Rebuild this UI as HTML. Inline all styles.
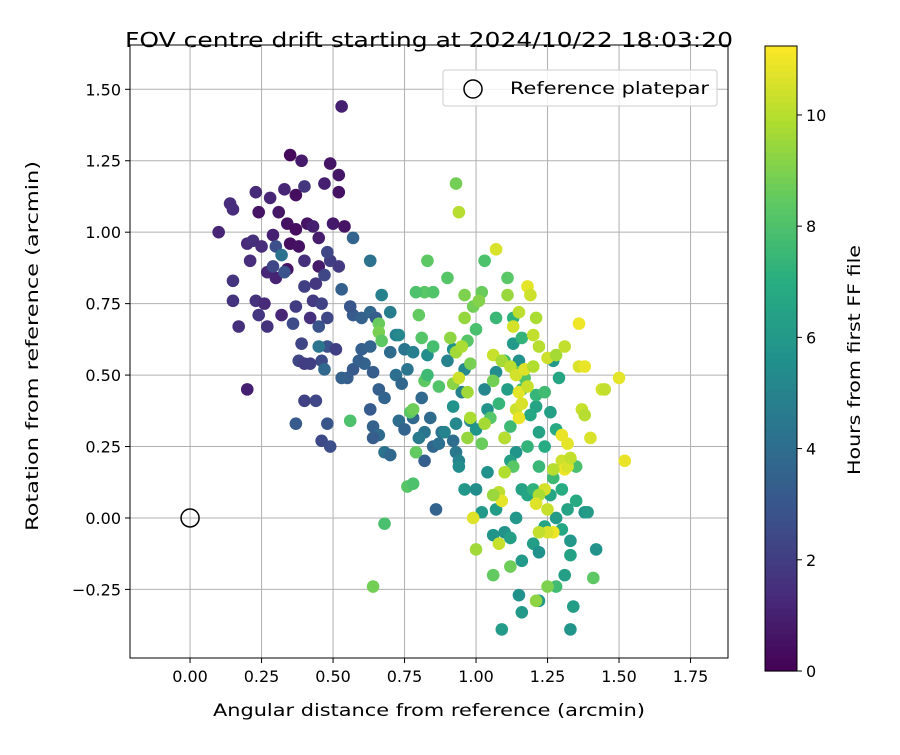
<!DOCTYPE html>
<html><head><meta charset="utf-8"><style>
body{margin:0;background:#fff;}
svg text{font-family:"DejaVu Sans","Liberation Sans",sans-serif;}
</style></head><body>
<svg id="chart" width="900" height="750" xmlns="http://www.w3.org/2000/svg">
<text x="429" y="47" font-size="20" text-anchor="middle" textLength="608" lengthAdjust="spacingAndGlyphs" fill="#000">FOV centre drift starting at 2024/10/22 18:03:20</text>
<g id="grid"></g>
<g id="points"></g>
<rect x="130" y="45" width="598" height="613" fill="none" stroke="#000" stroke-width="1"/>
<g id="ticks"></g>
<text x="429" y="716" font-size="17" text-anchor="middle" textLength="432" lengthAdjust="spacingAndGlyphs">Angular distance from reference (arcmin)</text>
<text transform="translate(38,346) rotate(-90)" font-size="17" text-anchor="middle" textLength="370" lengthAdjust="spacingAndGlyphs">Rotation from reference (arcmin)</text>
<g>
<rect x="443" y="70" width="274" height="36" rx="3" fill="#fff" fill-opacity="0.8" stroke="#ccc"/>
<circle cx="473" cy="89" r="9" fill="none" stroke="#000" stroke-width="1.5"/>
<text x="510" y="94" font-size="17" textLength="199" lengthAdjust="spacingAndGlyphs">Reference platepar</text>
</g>
<g id="cbar"></g>
<text transform="translate(860,360) rotate(-90)" font-size="17" text-anchor="middle" textLength="230" lengthAdjust="spacingAndGlyphs">Hours from first FF file</text>
</svg>
<script>
const xTicks=[0,0.25,0.5,0.75,1.0,1.25,1.5,1.75];
const yTicks=[-0.25,0,0.25,0.5,0.75,1.0,1.25,1.5];
const cbTicks=[0,2,4,6,8,10];
const referencePoint=[0,0];
const purple=[[0.53,1.44,1.0],[0.35,1.27,0.3],[0.49,1.24,0.6],[0.39,1.25,0.8],[0.33,1.15,1.2],[0.52,1.20,0.7],[0.47,1.17,1.0],[0.23,1.14,1.3],[0.14,1.10,1.4],[0.15,1.08,1.4],[0.28,1.12,1.2],[0.37,1.13,0.4],[0.40,1.16,1.8],[0.52,1.14,0.5],[0.24,1.07,0.6],[0.31,1.07,0.7],[0.10,1.00,1.2],[0.20,0.96,1.3],[0.22,0.97,1.5],[0.25,0.95,1.4],[0.29,0.99,1.0],[0.34,1.03,0.5],[0.37,1.01,0.4],[0.41,1.03,0.6],[0.43,1.02,1.0],[0.50,1.03,0.8],[0.54,1.02,0.6],[0.35,0.96,0.4],[0.38,0.95,0.5],[0.45,0.98,0.9],[0.27,0.86,1.2],[0.30,0.84,1.1],[0.34,0.87,0.6],[0.40,0.90,1.5],[0.45,0.88,0.8],[0.15,0.83,1.7],[0.21,0.90,1.4],[0.20,0.45,1.0],[0.23,0.76,1.6],[0.26,0.75,1.3],[0.15,0.76,1.6],[0.17,0.67,1.5],[0.24,0.71,1.8],[0.27,0.67,1.6],[0.32,0.71,1.2]];
const indigo=[[0.37,0.74,2.0],[0.42,0.70,1.5],[0.39,0.61,2.3],[0.36,0.68,2.6],[0.43,0.76,1.9],[0.46,0.75,2.2],[0.40,0.81,2.1],[0.44,0.82,1.8],[0.47,0.85,2.4],[0.49,0.90,2.0],[0.52,0.88,1.9],[0.48,0.93,2.4],[0.40,0.41,2.2],[0.44,0.41,2.4],[0.37,0.33,3.2],[0.46,0.27,2.5],[0.49,0.25,2.7],[0.38,0.55,2.3],[0.40,0.54,2.0],[0.46,0.55,2.6],[0.48,0.60,2.8],[0.51,0.59,2.1],[0.45,0.67,2.9],[0.48,0.70,2.4],[0.29,0.88,2.4],[0.33,0.86,2.9],[0.30,0.95,2.7],[0.32,0.92,4.2],[0.53,0.80,3.4],[0.42,0.54,2.1],[0.48,0.33,3.0],[0.47,0.52,3.8],[0.45,0.60,4.4]];
const blue=[[0.57,0.71,3.2],[0.60,0.70,3.5],[0.63,0.72,3.7],[0.65,0.70,3.3],[0.57,0.98,3.6],[0.63,0.90,4.2],[0.56,0.74,3.0],[0.60,0.59,3.4],[0.63,0.60,3.6],[0.64,0.51,3.3],[0.70,0.58,3.9],[0.72,0.50,4.1],[0.66,0.45,3.4],[0.68,0.42,3.6],[0.63,0.38,3.2],[0.64,0.32,3.5],[0.66,0.29,3.9],[0.64,0.28,3.3],[0.68,0.23,4.2],[0.70,0.22,3.8],[0.73,0.34,4.0],[0.75,0.31,3.6],[0.78,0.35,3.8],[0.82,0.30,4.3],[0.84,0.35,3.9],[0.82,0.20,3.4],[0.85,0.25,3.7],[0.87,0.26,4.1],[0.93,0.23,4.5],[0.86,0.03,3.6],[0.57,0.52,3.1],[0.55,0.49,3.3],[0.53,0.49,3.5],[0.74,0.47,3.7],[0.76,0.52,4.4],[0.81,0.42,3.8],[0.80,0.28,4.6],[0.88,0.30,4.2],[0.92,0.27,4.0],[0.75,0.59,4.3],[0.72,0.64,4.8],[0.61,0.54,3.6],[0.59,0.55,3.4]];
const teal=[[0.67,0.78,4.9],[0.70,0.72,4.7],[0.73,0.64,5.2],[0.78,0.58,4.8],[0.83,0.57,5.5],[0.90,0.55,5.0],[0.92,0.59,5.6],[0.96,0.52,5.3],[0.95,0.44,4.9],[0.92,0.39,5.7],[0.98,0.34,5.2],[1.00,0.31,5.8],[0.94,0.20,5.0],[0.94,0.18,5.4],[0.96,0.10,5.9],[1.00,0.10,5.5],[1.02,0.02,6.0],[1.04,0.16,5.6],[1.06,-0.06,5.8],[1.07,0.03,6.2],[1.10,-0.05,5.7],[1.12,-0.07,6.3],[1.14,0.00,5.9],[1.16,0.10,6.4],[1.18,0.08,6.6],[1.16,-0.15,6.0],[1.20,-0.09,6.2],[1.22,-0.12,5.6],[1.24,-0.03,6.5],[1.28,0.00,6.1],[1.30,-0.04,6.7],[1.31,-0.20,6.3],[1.33,-0.08,5.9],[1.33,-0.13,6.4],[1.35,0.06,6.8],[1.38,0.02,5.8],[1.39,0.02,6.1],[1.42,-0.11,5.7],[1.34,-0.31,6.2],[1.33,-0.39,5.8],[1.15,-0.27,5.6],[1.16,-0.33,6.0],[1.22,-0.29,5.9],[1.09,-0.39,6.1],[1.21,0.39,6.5],[1.26,0.37,6.3],[1.27,0.55,5.9],[1.29,0.49,6.6],[1.28,0.31,6.8],[1.22,0.30,6.4],[1.10,0.28,5.5],[1.14,0.23,5.8],[1.03,0.45,5.1],[1.07,0.51,5.4],[1.04,0.38,5.7],[0.93,0.33,5.2],[0.89,0.30,5.0],[1.13,0.61,6.0],[1.15,0.55,5.6],[1.11,0.45,6.2],[1.19,0.36,6.7],[1.24,0.25,6.9],[1.26,0.08,6.6],[1.30,0.10,6.9],[1.32,0.03,6.5],[1.12,0.20,6.3]];
const green=[[0.82,0.79,8.3],[0.85,0.79,8.1],[0.83,0.90,8.4],[0.90,0.84,8.2],[0.93,1.17,8.8],[0.79,0.79,8.0],[0.85,0.60,7.8],[0.80,0.71,8.5],[0.81,0.63,8.2],[0.66,0.68,8.6],[0.66,0.65,8.9],[0.67,0.62,8.4],[0.56,0.34,8.0],[0.77,0.37,8.3],[0.78,0.38,8.7],[0.79,0.23,8.5],[0.76,0.11,8.2],[0.78,0.12,8.0],[0.68,-0.02,7.9],[0.64,-0.24,8.8],[0.82,0.48,8.4],[0.87,0.46,8.1],[0.83,0.50,7.6],[0.97,0.62,8.2],[1.00,0.66,7.9],[1.02,0.79,8.6],[1.03,0.90,8.0],[1.07,0.70,7.5],[1.11,0.84,8.3],[1.13,0.70,7.2],[1.10,0.55,7.8],[1.08,0.40,7.4],[1.12,0.32,7.6],[1.18,0.25,7.3],[1.20,0.10,7.2],[1.22,0.18,7.5],[1.27,0.14,7.6],[1.35,0.18,7.9],[1.41,-0.21,8.4],[1.28,-0.24,7.7],[1.21,0.43,7.4],[1.24,0.44,7.7],[1.16,0.45,7.9],[1.17,0.49,8.1],[1.13,0.18,8.3],[1.06,-0.20,8.5],[1.12,-0.17,8.7],[1.25,-0.24,9.0],[1.16,0.63,7.3],[0.98,0.54,8.9],[0.96,0.78,9.0],[0.99,0.74,8.8],[1.01,0.76,9.1],[1.02,0.26,8.6],[1.05,0.35,8.2],[1.06,0.48,8.8],[1.14,0.51,8.5]];
const yellow=[[0.94,1.07,10.0],[0.91,0.63,9.3],[0.93,0.58,9.6],[0.95,0.60,9.8],[0.96,0.70,9.4],[1.06,0.57,10.3],[1.09,0.55,9.7],[1.12,0.53,10.1],[1.14,0.50,10.5],[1.17,0.52,10.7],[1.20,0.53,9.9],[1.07,0.94,10.6],[1.11,0.78,9.5],[1.18,0.81,10.8],[1.19,0.78,10.4],[1.21,0.70,9.8],[1.20,0.64,10.2],[1.22,0.60,10.0],[1.25,0.56,10.4],[1.28,0.57,9.7],[1.31,0.60,10.2],[1.36,0.68,11.0],[1.36,0.53,10.6],[1.38,0.53,10.9],[1.44,0.45,10.5],[1.45,0.45,10.2],[1.50,0.49,10.8],[1.52,0.20,10.9],[1.40,0.28,10.6],[1.37,0.38,10.3],[1.38,0.36,10.0],[1.32,0.26,10.8],[1.30,0.20,10.4],[1.31,0.17,11.0],[1.32,0.18,10.6],[1.33,0.21,10.2],[1.27,0.17,10.0],[1.24,0.10,10.5],[1.22,0.08,9.8],[1.21,0.05,10.7],[1.25,0.03,10.3],[1.27,-0.05,11.0],[1.25,-0.05,10.6],[1.22,-0.05,10.2],[1.15,0.44,10.8],[1.14,0.38,10.4],[1.15,0.35,10.9],[1.16,0.40,10.6],[1.10,0.28,10.0],[1.10,0.16,9.9],[1.08,0.09,10.1],[1.09,0.06,10.8],[1.06,0.08,9.5],[1.08,-0.09,10.3],[0.99,0.00,10.7],[1.00,-0.11,9.6],[0.97,0.28,9.4],[0.98,0.35,9.8],[0.92,0.47,9.2],[0.94,0.49,10.4],[0.97,0.44,9.6],[1.03,0.33,9.7],[1.13,0.67,10.5],[1.15,0.72,10.1],[1.18,0.46,10.3],[1.21,-0.29,9.3],[1.30,0.29,10.9]];

const X0=130,X1=728,Y0=45,Y1=658,xmin=-0.21,xmax=1.881,ymin=-0.49,ymax=1.655;
const sx=v=>X0+(v-xmin)/(xmax-xmin)*(X1-X0);
const sy=v=>Y1-(v-ymin)/(ymax-ymin)*(Y1-Y0);
const CB0=671,CB1=46,cmax=11.24;
const sc=v=>CB0-v/cmax*(CB0-CB1);
const VS=[[0,[68,1,84]],[0.125,[71,45,123]],[0.25,[59,82,139]],[0.375,[44,114,142]],[0.5,[33,145,140]],[0.625,[40,174,128]],[0.75,[94,201,98]],[0.875,[173,220,48]],[1,[253,231,37]]];
function vir(t){t=Math.max(0,Math.min(1,t));for(let i=1;i<VS.length;i++){if(t<=VS[i][0]){const a=VS[i-1],b=VS[i],f=(t-a[0])/(b[0]-a[0]);return 'rgb('+a[1].map((c,k)=>Math.round(c+(b[1][k]-c)*f)).join(',')+')';}}return 'rgb(253,231,37)';}
const NS='http://www.w3.org/2000/svg';
function mk(tag,at,parent){const e=document.createElementNS(NS,tag);for(const k in at)e.setAttribute(k,at[k]);parent.appendChild(e);return e;}
const grid=document.getElementById('grid'),ticks=document.getElementById('ticks'),pts=document.getElementById('points'),cb=document.getElementById('cbar');
xTicks.forEach(v=>{const x=sx(v);
 const g=mk('line',{x1:x,x2:x,y1:Y0,y2:Y1,stroke:'#b0b0b0','stroke-width':1},grid);
 
 
 mk('line',{x1:x,x2:x,y1:Y1,y2:Y1+5,stroke:'#000'},ticks);
 const t=mk('text',{x:x,y:Y1+24,'font-size':16,'text-anchor':'middle'},ticks);t.textContent=v.toFixed(2);
 
 });
yTicks.forEach(v=>{const y=sy(v);
 const g=mk('line',{x1:X0,x2:X1,y1:y,y2:y,stroke:'#b0b0b0','stroke-width':1},grid);
 
 
 mk('line',{x1:X0-5,x2:X0,y1:y,y2:y,stroke:'#000'},ticks);
 const t=mk('text',{x:X0-9,y:y+6,'font-size':16,'text-anchor':'end'},ticks);t.textContent=(v<0?'\u2212':'')+Math.abs(v).toFixed(2);
 
 });
[purple,indigo,blue,teal,green,yellow].forEach(grp=>grp.forEach(p=>{
 const c=mk('circle',{cx:sx(p[0]),cy:sy(p[1]),r:6.3,fill:vir(p[2]/cmax)},pts);
 
 }));
const ref=mk('circle',{cx:sx(referencePoint[0]),cy:sy(referencePoint[1]),r:9,fill:'none',stroke:'#000','stroke-width':1.5},pts);


for(let i=0;i<100;i++){const a=sc(i/100*cmax),b=sc((i+1)/100*cmax);
 mk('rect',{x:765,y:b,width:32,height:a-b+0.6,fill:vir((i+0.5)/100)},cb);}
const cf=mk('rect',{x:765,y:CB1,width:32,height:CB0-CB1,fill:'none',stroke:'#000'},cb);


cbTicks.forEach(v=>{const y=sc(v);mk('line',{x1:797,x2:802,y1:y,y2:y,stroke:'#000'},cb);
 const t=mk('text',{x:806,y:y+6,'font-size':16},cb);t.textContent=v;
 
 });
</script>
</body></html>
